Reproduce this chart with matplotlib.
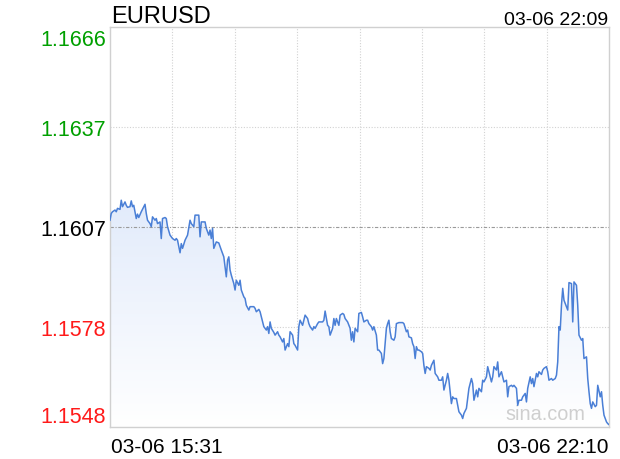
import numpy as np
import matplotlib
matplotlib.use("Agg")
import matplotlib.pyplot as plt
from matplotlib.colors import LinearSegmentedColormap

# EURUSD, minutes after 03-06 15:31
minutes = [0, 1, 2, 4, 5, 6, 8, 9, 10, 12, 13, 14, 16, 17, 18, 19, 21, 22, 23, 25,
           28, 29, 30, 32, 33, 34, 36, 37, 38, 40, 41, 42, 44, 45, 46, 48, 49, 50, 52, 53,
           54, 56, 57, 58, 60, 62, 64, 65, 67, 68, 71, 72, 73, 76, 77, 79, 80, 81, 82, 83,
           85, 87, 88, 89, 91, 92, 93, 94, 95, 96, 97, 99, 100, 101, 103, 104, 105, 107, 108, 109,
           111, 112, 115, 116, 117, 119, 120, 121, 123, 125, 126, 127, 128, 129, 131, 132, 134, 135, 136, 138,
           139, 140, 142, 143, 144, 146, 147, 148, 150, 151, 152, 154, 155, 156, 158, 159, 160, 162, 163, 164,
           166, 167, 170, 171, 172, 174, 175, 176, 178, 179, 180, 181, 183, 184, 186, 187, 188, 190, 192, 193,
           194, 195, 196, 198, 199, 201, 202, 203, 205, 206, 207, 209, 210, 211, 213, 214, 215, 217, 218, 219,
           221, 222, 223, 224, 225, 227, 228, 229, 231, 234, 235, 237, 238, 239, 241, 242, 243, 244, 245, 246,
           247, 249, 250, 251, 252, 253, 255, 256, 257, 259, 260, 262, 263, 265, 266, 267, 269, 270, 271, 273,
           274, 275, 277, 278, 279, 281, 282, 283, 285, 286, 287, 289, 290, 291, 293, 294, 295, 297, 298, 299,
           301, 302, 303, 305, 306, 307, 309, 310, 311, 313, 314, 315, 317, 318, 319, 321, 322, 323, 325, 326,
           327, 329, 330, 332, 333, 334, 336, 337, 338, 339, 341, 342, 343, 345, 346, 347, 349, 350, 351, 353,
           354, 356, 357, 358, 359, 360, 361, 362, 363, 365, 366, 367, 369, 370, 371, 373, 374, 375, 377, 378,
           379, 381, 382, 383, 384, 385, 386, 388, 389, 390, 392, 393, 394, 395, 397, 398, 399]
prices = [1.16090, 1.16110, 1.16115, 1.16120, 1.16115, 1.16125, 1.16122, 1.16149, 1.16130, 1.16144,
          1.16134, 1.16128, 1.16130, 1.16147, 1.16130, 1.16134, 1.16095, 1.16108, 1.16098, 1.16115,
          1.16137, 1.16110, 1.16090, 1.16080, 1.16071, 1.16100, 1.16090, 1.16095, 1.16080, 1.16085,
          1.16036, 1.16095, 1.16098, 1.16095, 1.16071, 1.16046, 1.16041, 1.16036, 1.16031, 1.16036,
          1.16031, 1.15994, 1.16021, 1.16007, 1.16031, 1.16046, 1.16090, 1.16080, 1.16071, 1.16105,
          1.16105, 1.16041, 1.16085, 1.16085, 1.16066, 1.16046, 1.16061, 1.16036, 1.16066, 1.16007,
          1.16026, 1.16023, 1.16012, 1.16002, 1.15982, 1.15953, 1.15923, 1.15972, 1.15982, 1.15943,
          1.15928, 1.15903, 1.15884, 1.15913, 1.15898, 1.15913, 1.15884, 1.15864, 1.15859, 1.15839,
          1.15825, 1.15835, 1.15835, 1.15830, 1.15820, 1.15827, 1.15820, 1.15805, 1.15776, 1.15766,
          1.15776, 1.15756, 1.15790, 1.15771, 1.15759, 1.15751, 1.15761, 1.15751, 1.15746, 1.15731,
          1.15741, 1.15707, 1.15726, 1.15717, 1.15761, 1.15751, 1.15726, 1.15721, 1.15707, 1.15776,
          1.15795, 1.15780, 1.15795, 1.15810, 1.15800, 1.15785, 1.15776, 1.15766, 1.15776, 1.15771,
          1.15785, 1.15790, 1.15790, 1.15795, 1.15822, 1.15780, 1.15776, 1.15751, 1.15771, 1.15800,
          1.15780, 1.15800, 1.15780, 1.15810, 1.15815, 1.15812, 1.15800, 1.15790, 1.15771, 1.15736,
          1.15761, 1.15731, 1.15771, 1.15761, 1.15815, 1.15818, 1.15805, 1.15790, 1.15795, 1.15795,
          1.15785, 1.15776, 1.15766, 1.15776, 1.15751, 1.15707, 1.15707, 1.15697, 1.15667, 1.15682,
          1.15771, 1.15785, 1.15795, 1.15761, 1.15741, 1.15736, 1.15746, 1.15785, 1.15788, 1.15788,
          1.15785, 1.15761, 1.15766, 1.15746, 1.15743, 1.15726, 1.15717, 1.15682, 1.15717, 1.15707,
          1.15707, 1.15702, 1.15697, 1.15662, 1.15638, 1.15658, 1.15653, 1.15648, 1.15662, 1.15677,
          1.15638, 1.15628, 1.15618, 1.15618, 1.15628, 1.15589, 1.15618, 1.15638, 1.15618, 1.15549,
          1.15569, 1.15564, 1.15564, 1.15544, 1.15525, 1.15515, 1.15505, 1.15520, 1.15535, 1.15564,
          1.15594, 1.15623, 1.15608, 1.15559, 1.15589, 1.15569, 1.15594, 1.15584, 1.15618, 1.15613,
          1.15628, 1.15658, 1.15643, 1.15613, 1.15628, 1.15658, 1.15648, 1.15672, 1.15628, 1.15643,
          1.15628, 1.15613, 1.15618, 1.15569, 1.15599, 1.15603, 1.15599, 1.15603, 1.15594, 1.15544,
          1.15559, 1.15559, 1.15569, 1.15579, 1.15554, 1.15594, 1.15628, 1.15608, 1.15623, 1.15599,
          1.15638, 1.15628, 1.15643, 1.15635, 1.15648, 1.15653, 1.15658, 1.15643, 1.15618, 1.15623,
          1.15618, 1.15623, 1.15633, 1.15672, 1.15776, 1.15766, 1.15839, 1.15889, 1.15854, 1.15835,
          1.15825, 1.15906, 1.15903, 1.15790, 1.15908, 1.15898, 1.15839, 1.15751, 1.15736, 1.15741,
          1.15682, 1.15687, 1.15623, 1.15584, 1.15549, 1.15535, 1.15554, 1.15540, 1.15544, 1.15603,
          1.15569, 1.15584, 1.15544, 1.15515, 1.15495, 1.15490, 1.15487]

prev_close = 1.1607
y_labels = ["1.1548", "1.1578", "1.1607", "1.1637", "1.1666"]
y_colors = ["#ff1a1a", "#ff1a1a", "#000000", "#00a000", "#00a000"]
title = "EURUSD"
stamp = "03-06 22:09"
start_label = "03-06 15:31"
end_label = "03-06 22:10"

plt.rcParams['font.family'] = ['Liberation Sans', 'DejaVu Sans']

fig = plt.figure(figsize=(6.2, 4.6), dpi=100)
ax = fig.add_axes([110 / 620, 32 / 460, 499 / 620, 400 / 460])

y0, y1 = 1.1548, 1.1666
t_end = 399
ax.set_xlim(0, t_end)
ax.set_ylim(y0, y1)

t = np.array(minutes)
p = np.array(prices)

# gradient fill under the line
poly = ax.fill_between(t, p, y0, facecolor='none', edgecolor='none')
cmap = LinearSegmentedColormap.from_list('g', ['#ffffff', '#e2ebfb'])
grad = np.linspace(0, 1, 256).reshape(-1, 1)
im = ax.imshow(grad, extent=[0, t_end, y0, p.max()], origin='lower', aspect='auto',
               cmap=cmap, zorder=1)
im.set_clip_path(poly.get_paths()[0], transform=ax.transData)

ax.plot(t, p, color='#4a7fd6', lw=1.1, zorder=3)

# grid
xt = np.linspace(0, t_end, 9)
yt = np.linspace(y0, y1, 5)
for x in xt[1:-1]:
    ax.axvline(x, color='#d2d2d2', lw=0.8, ls=(0, (1, 1.5)), zorder=0)
for y in yt[1:-1]:
    if abs(y - prev_close) < 1e-6:
        ax.axhline(y, color='#9a9a9a', lw=0.8, ls=(0, (3, 1.5, 1, 1.5)), zorder=2)
    else:
        ax.axhline(y, color='#d2d2d2', lw=0.8, ls=(0, (1, 1.5)), zorder=0)

ax.set_xticks([])
ax.set_yticks([])
for s in ax.spines.values():
    s.set_color('#d0d0d0')
    s.set_linewidth(1.0)

# y labels
trans = ax.get_yaxis_transform()
for i, (y, lab, c) in enumerate(zip(yt, y_labels, y_colors)):
    va = 'center_baseline'
    yy = y
    if i == 0:
        va = 'baseline'
        yy = y + 0.00015
    elif i == len(yt) - 1:
        va = 'top'
        yy = y - 0.00006
    ax.text(-0.008, yy, lab, transform=trans, ha='right', va=va, color=c, fontsize=15.5)

ax.text(0.002, 1.012, title, transform=ax.transAxes, ha='left', va='baseline', fontsize=17)
ax.text(0.998, 1.0075, stamp, transform=ax.transAxes, ha='right', va='baseline', fontsize=14)
ax.text(0.002, -0.063, start_label, transform=ax.transAxes, ha='left', va='baseline', fontsize=15)
ax.text(0.998, -0.063, end_label, transform=ax.transAxes, ha='right', va='baseline', fontsize=15)
ax.text(0.953, 0.02, "sina.com", transform=ax.transAxes, ha='right', va='baseline',
        fontsize=14.3, color='#cfcfcf', zorder=2)

fig.savefig("out.png", dpi=100)
